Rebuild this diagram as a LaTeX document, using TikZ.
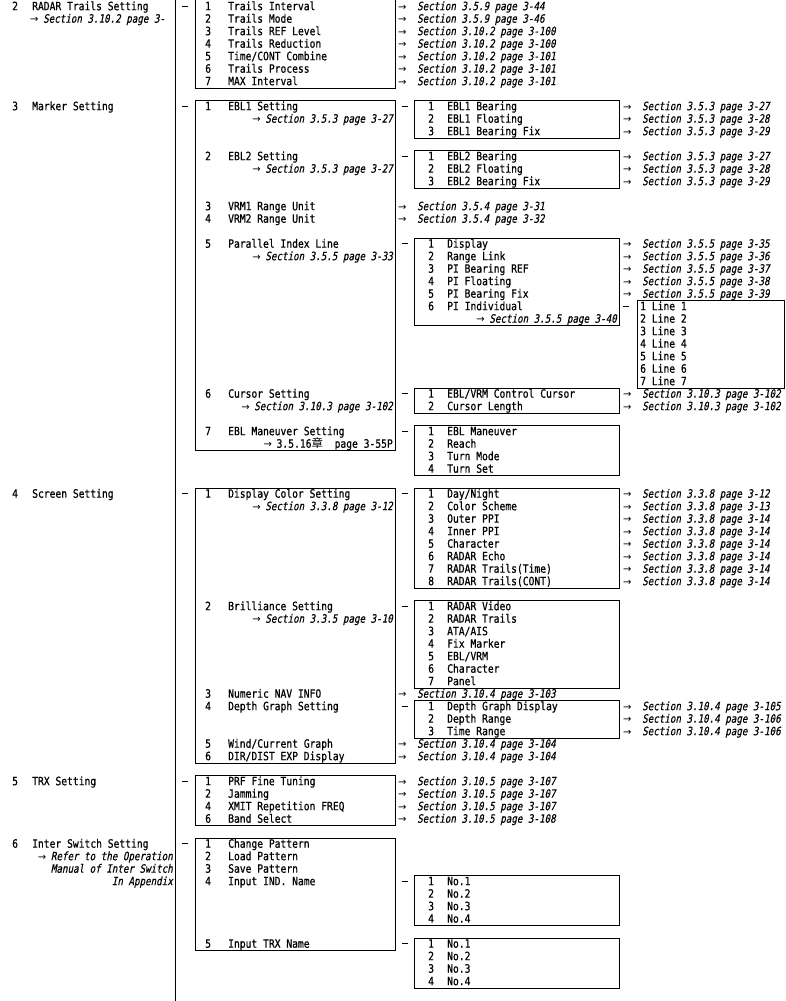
\documentclass[tikz,border=0pt]{standalone}
\usepackage{fontspec}
\newfontfamily\gf{DejaVu Sans Mono}[FakeStretch=0.84,FakeBold=0.6]
\newfontfamily\gfi{DejaVu Sans Mono}[FakeStretch=0.8,FakeSlant=0.2,FakeBold=0.4]
\newfontfamily\arf{DejaVu Sans}
\newfontfamily\cjk{Noto Sans CJK JP}
\newcounter{nn}
\newcommand\arwsp{\makebox[19pt][l]{\arf\fontsize{10}{10}\selectfont →}}
\newcommand\arwn{\makebox[13pt][l]{\arf\fontsize{10}{10}\selectfont →}}
% text nodes: x, row, text
\newcommand\mkT[3]{\stepcounter{nn}\node[txt] (t\arabic{nn}) at (#1,{12.5*#2+10.2}) {#3};}
\newcommand\mkTR[3]{\stepcounter{nn}\node[txt,anchor=base east] (t\arabic{nn}) at (#1,{12.5*#2+10.2}) {#3};}
\newcommand\mkI[3]{\stepcounter{nn}\node[reftxt] (t\arabic{nn}) at (#1,{12.5*#2+10.2}) {#3};}
\newcommand\mkIR[3]{\stepcounter{nn}\node[reftxt,anchor=base east] (t\arabic{nn}) at (#1,{12.5*#2+10.2}) {#3};}
\newcommand\mkD[2]{\stepcounter{nn}\node[dashm] (d\arabic{nn}) at (#1,{12.5*#2+6}) {};}
% items
\newcommand\itL[3]{\mkT{12}{#1}{#2}\mkT{32}{#1}{#3}}
\newcommand\itA[3]{\mkT{205}{#1}{#2}\mkT{228}{#1}{#3}}
\newcommand\itB[3]{\mkT{428}{#1}{#2}\mkT{447}{#1}{#3}}
\newcommand\refA[2]{\mkI{398}{#1}{\arwsp Section #2}}
\newcommand\refB[2]{\mkI{623}{#1}{\arwsp Section #2}}
% box: name, x, width, first row, last row
\newcommand\mkbox[5]{\node[boxn, minimum width=#3pt, minimum height=\fpeval{12.5*(#5-#4+1)}pt] (#1) at (#2,{12.5*#4}) {};}
\begin{document}
\begin{tikzpicture}[x=1pt,y=-1pt,
  txt/.style={inner sep=0pt, anchor=base west, font=\gf\fontsize{11.5}{12.5}\selectfont},
  reftxt/.style={inner sep=0pt, anchor=base west, font=\gfi\fontsize{11.5}{12.5}\selectfont},
  dashm/.style={fill=black, draw=none, inner sep=0pt, minimum width=6pt, minimum height=0.9pt},
  boxn/.style={draw, line width=1pt, inner sep=0pt, anchor=north west},
  trunk/.style={line width=1pt}]
\useasboundingbox (0,0) rectangle (785,1001);
\fill[white] (0,0) rectangle (785,1001);

% main vertical line
\coordinate (top) at (175,-3);
\coordinate (bot) at (175,1004);
\draw[trunk] (top) -- (bot);

% ---------- left column ----------
\itL{0}{2}{RADAR Trails Setting}
\mkI{30}{1}{\arwn Section 3.10.2 page 3-}
\itL{8}{3}{Marker Setting}
\itL{39}{4}{Screen Setting}
\itL{62}{5}{TRX Setting}
\itL{67}{6}{Inter Switch Setting}
\mkIR{173}{68}{\arwn Refer to the Operation}
\mkIR{173}{69}{Manual of Inter Switch}
\mkIR{173}{70}{In Appendix}

% level-1 dashes
\mkD{185}{0}\mkD{185}{8}\mkD{185}{39}\mkD{185}{62}\mkD{185}{67}

% ---------- level-1 boxes ----------
\mkbox{bA}{195}{200}{-1}{6}
\mkbox{bB}{195}{200}{8}{35}
\mkbox{bC}{195}{200}{39}{60}
\mkbox{bD}{195}{200}{62}{65}
\mkbox{bE}{195}{200}{67}{75}

% box A
\itA{0}{1}{Trails Interval}
\itA{1}{2}{Trails Mode}
\itA{2}{3}{Trails REF Level}
\itA{3}{4}{Trails Reduction}
\itA{4}{5}{Time/CONT Combine}
\itA{5}{6}{Trails Process}
\itA{6}{7}{MAX Interval}
\refA{0}{3.5.9 page 3-44}
\refA{1}{3.5.9 page 3-46}
\refA{2}{3.10.2 page 3-100}
\refA{3}{3.10.2 page 3-100}
\refA{4}{3.10.2 page 3-101}
\refA{5}{3.10.2 page 3-101}
\refA{6}{3.10.2 page 3-101}

% box B
\itA{8}{1}{EBL1 Setting}
\mkIR{393}{9}{\arwn Section 3.5.3 page 3-27}
\itA{12}{2}{EBL2 Setting}
\mkIR{393}{13}{\arwn Section 3.5.3 page 3-27}
\itA{16}{3}{VRM1 Range Unit}
\itA{17}{4}{VRM2 Range Unit}
\refA{16}{3.5.4 page 3-31}
\refA{17}{3.5.4 page 3-32}
\itA{19}{5}{Parallel Index Line}
\mkIR{393}{20}{\arwn Section 3.5.5 page 3-33}
\itA{31}{6}{Cursor Setting}
\mkIR{393}{32}{\arwn Section 3.10.3 page 3-102}
\itA{34}{7}{EBL Maneuver Setting}
\mkTR{393}{35}{\arwn 3.5.16{\cjk 章}\ \ page 3-55P}

% box C
\itA{39}{1}{Display Color Setting}
\mkIR{393}{40}{\arwn Section 3.3.8 page 3-12}
\itA{48}{2}{Brilliance Setting}
\mkIR{393}{49}{\arwn Section 3.3.5 page 3-10}
\itA{55}{3}{Numeric NAV INFO}
\itA{56}{4}{Depth Graph Setting}
\itA{59}{5}{Wind/Current Graph}
\itA{60}{6}{DIR/DIST EXP Display}
\refA{55}{3.10.4 page 3-103}
\refA{59}{3.10.4 page 3-104}
\refA{60}{3.10.4 page 3-104}

% box D
\itA{62}{1}{PRF Fine Tuning}
\itA{63}{2}{Jamming}
\itA{64}{4}{XMIT Repetition FREQ}
\itA{65}{6}{Band Select}
\refA{62}{3.10.5 page 3-107}
\refA{63}{3.10.5 page 3-107}
\refA{64}{3.10.5 page 3-107}
\refA{65}{3.10.5 page 3-108}

% box E
\itA{67}{1}{Change Pattern}
\itA{68}{2}{Load Pattern}
\itA{69}{3}{Save Pattern}
\itA{70}{4}{Input IND. Name}
\itA{75}{5}{Input TRX Name}

% level-2 dashes
\mkD{404.5}{8}\mkD{404.5}{12}\mkD{404.5}{19}\mkD{404.5}{31}\mkD{404.5}{34}
\mkD{404.5}{39}\mkD{404.5}{48}\mkD{404.5}{56}\mkD{404.5}{70}\mkD{404.5}{75}

% ---------- level-2 boxes ----------
\mkbox{bF}{414}{205}{8}{10}
\mkbox{bG}{414}{205}{12}{14}
\mkbox{bH}{414}{205}{19}{25}
\mkbox{bI}{414}{205}{31}{32}
\mkbox{bJ}{414}{205}{34}{37}
\mkbox{bK}{414}{205}{39}{46}
\mkbox{bL}{414}{205}{48}{54}
\mkbox{bM}{414}{205}{56}{58}
\mkbox{bN}{414}{205}{70}{73}
\mkbox{bO}{414}{205}{75}{78}

\itB{8}{1}{EBL1 Bearing}
\itB{9}{2}{EBL1 Floating}
\itB{10}{3}{EBL1 Bearing Fix}
\refB{8}{3.5.3 page 3-27}
\refB{9}{3.5.3 page 3-28}
\refB{10}{3.5.3 page 3-29}

\itB{12}{1}{EBL2 Bearing}
\itB{13}{2}{EBL2 Floating}
\itB{14}{3}{EBL2 Bearing Fix}
\refB{12}{3.5.3 page 3-27}
\refB{13}{3.5.3 page 3-28}
\refB{14}{3.5.3 page 3-29}

\itB{19}{1}{Display}
\itB{20}{2}{Range Link}
\itB{21}{3}{PI Bearing REF}
\itB{22}{4}{PI Floating}
\itB{23}{5}{PI Bearing Fix}
\itB{24}{6}{PI Individual}
\mkIR{617}{25}{\arwn Section 3.5.5 page 3-40}
\refB{19}{3.5.5 page 3-35}
\refB{20}{3.5.5 page 3-36}
\refB{21}{3.5.5 page 3-37}
\refB{22}{3.5.5 page 3-38}
\refB{23}{3.5.5 page 3-39}

\itB{31}{1}{EBL/VRM Control Cursor}
\itB{32}{2}{Cursor Length}
\refB{31}{3.10.3 page 3-102}
\refB{32}{3.10.3 page 3-102}

\itB{34}{1}{EBL Maneuver}
\itB{35}{2}{Reach}
\itB{36}{3}{Turn Mode}
\itB{37}{4}{Turn Set}

\itB{39}{1}{Day/Night}
\itB{40}{2}{Color Scheme}
\itB{41}{3}{Outer PPI}
\itB{42}{4}{Inner PPI}
\itB{43}{5}{Character}
\itB{44}{6}{RADAR Echo}
\itB{45}{7}{RADAR Trails(Time)}
\itB{46}{8}{RADAR Trails(CONT)}
\refB{39}{3.3.8 page 3-12}
\refB{40}{3.3.8 page 3-13}
\refB{41}{3.3.8 page 3-14}
\refB{42}{3.3.8 page 3-14}
\refB{43}{3.3.8 page 3-14}
\refB{44}{3.3.8 page 3-14}
\refB{45}{3.3.8 page 3-14}
\refB{46}{3.3.8 page 3-14}

\itB{48}{1}{RADAR Video}
\itB{49}{2}{RADAR Trails}
\itB{50}{3}{ATA/AIS}
\itB{51}{4}{Fix Marker}
\itB{52}{5}{EBL/VRM}
\itB{53}{6}{Character}
\itB{54}{7}{Panel}

\itB{56}{1}{Depth Graph Display}
\itB{57}{2}{Depth Range}
\itB{58}{3}{Time Range}
\refB{56}{3.10.4 page 3-105}
\refB{57}{3.10.4 page 3-106}
\refB{58}{3.10.4 page 3-106}

\itB{70}{1}{No.1}
\itB{71}{2}{No.2}
\itB{72}{3}{No.3}
\itB{73}{4}{No.4}
\itB{75}{1}{No.1}
\itB{76}{2}{No.2}
\itB{77}{3}{No.3}
\itB{78}{4}{No.4}

% ---------- level-3 ----------
\mkD{626}{24}
\mkbox{bP}{637}{147}{24}{30}
\mkT{640}{24}{1 Line 1}
\mkT{640}{25}{2 Line 2}
\mkT{640}{26}{3 Line 3}
\mkT{640}{27}{4 Line 4}
\mkT{640}{28}{5 Line 5}
\mkT{640}{29}{6 Line 6}
\mkT{640}{30}{7 Line 7}
\end{tikzpicture}
\end{document}
